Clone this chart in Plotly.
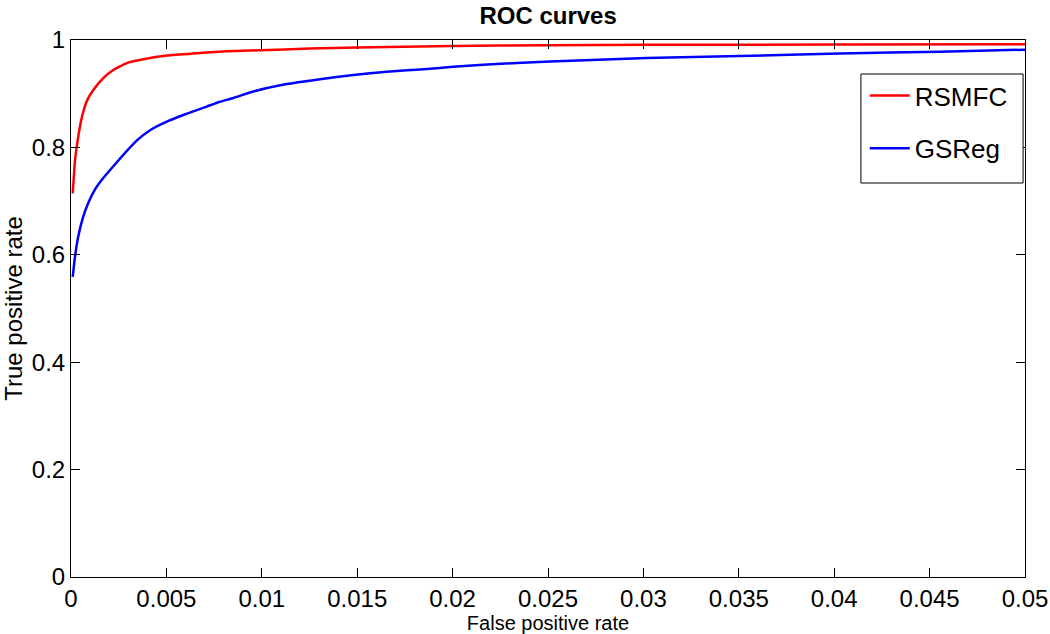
import plotly.graph_objects as go

# Data
rsmfc_fpr = [0.00009, 0.00021, 0.0003, 0.00047, 0.00064, 0.00085, 0.00117, 0.00169, 0.00222, 0.00292,
             0.00379, 0.00502, 0.00641, 0.00816, 0.00991, 0.0125, 0.01497, 0.01997, 0.02498,
             0.03017, 0.04, 0.05]
rsmfc_tpr = [0.7145, 0.776, 0.801, 0.839, 0.866, 0.888, 0.907, 0.929, 0.944, 0.957,
             0.964, 0.971, 0.975, 0.979, 0.981, 0.984, 0.986, 0.989, 0.990,
             0.991, 0.9915, 0.992]

gsreg_fpr = [0.00009, 0.00021, 0.00038, 0.00064, 0.00091, 0.00126, 0.00169, 0.00222, 0.00274,
             0.00344, 0.00414, 0.00502, 0.00571, 0.00711, 0.00781, 0.00851, 0.00955, 0.01131,
             0.01305, 0.0148, 0.01655, 0.01829, 0.02002, 0.0216, 0.0251, 0.03017, 0.03506,
             0.0403, 0.04554, 0.05]
gsreg_tpr = [0.559, 0.5965, 0.634, 0.671, 0.697, 0.722, 0.743, 0.765, 0.786,
             0.8125, 0.832, 0.848, 0.858, 0.876, 0.885, 0.892, 0.904, 0.918,
             0.927, 0.935, 0.941, 0.945, 0.950, 0.954, 0.960, 0.9665, 0.970,
             0.975, 0.978, 0.982]

x_ticks = [0, 0.005, 0.01, 0.015, 0.02, 0.025, 0.03, 0.035, 0.04, 0.045, 0.05]
x_tick_labels = ["0", "0.005", "0.01", "0.015", "0.02", "0.025", "0.03", "0.035", "0.04", "0.045", "0.05"]
y_ticks = [0, 0.2, 0.4, 0.6, 0.8, 1]
y_tick_labels = ["0", "0.2", "0.4", "0.6", "0.8", "1"]

FONT = "Liberation Sans, Arial, Helvetica, sans-serif"

fig = go.Figure()
fig.add_trace(go.Scatter(x=rsmfc_fpr, y=rsmfc_tpr, mode="lines", name="RSMFC",
                         line=dict(color="#ff0000", width=2.5, shape="spline", smoothing=0.4),
                         legendgroup="a"))
fig.add_trace(go.Scatter(x=gsreg_fpr, y=gsreg_tpr, mode="lines", name="GSReg",
                         line=dict(color="#0000ff", width=2.5, shape="spline", smoothing=0.4),
                         legendgroup="b"))

axis_common = dict(showline=True, linecolor="black", linewidth=1, mirror="ticks",
                   ticks="inside", ticklen=9, tickcolor="black", tickwidth=1,
                   showgrid=False, zeroline=False, automargin=False,
                   tickfont=dict(family=FONT, size=24, color="black"))

fig.update_layout(
    width=1050, height=634,
    margin=dict(l=71, r=25, t=40, b=57),
    paper_bgcolor="white", plot_bgcolor="white",
    font=dict(family=FONT, color="black"),
    title=dict(text="<b>ROC curves</b>", x=0.522, xanchor="center", y=0.976, yanchor="middle",
               font=dict(family=FONT, size=24, color="black")),
    xaxis=dict(range=[0, 0.05], tickvals=x_ticks, ticktext=x_tick_labels,
               title=dict(text="False positive rate", font=dict(family=FONT, size=20), standoff=0),
               **axis_common),
    yaxis=dict(range=[0, 1], tickvals=y_ticks, ticktext=y_tick_labels,
               title=dict(text="True positive rate", font=dict(family=FONT, size=24), standoff=2),
               **axis_common),
    legend=dict(x=0.832, xanchor="left", y=0.9404, yanchor="top",
                bgcolor="rgba(0,0,0,0)", borderwidth=0,
                font=dict(family=FONT, size=26, color="black"),
                traceorder="grouped", tracegroupgap=16, itemwidth=40),
    showlegend=True,
    shapes=[dict(type="rect", xref="paper", yref="paper",
                 x0=0.828, x1=0.998, y0=0.7337, y1=0.9367,
                 line=dict(color="black", width=1), fillcolor="white", layer="above")],
)

fig.write_html("out.html", config={"displayModeBar": False},
               post_script="document.body.style.margin='0px';")
